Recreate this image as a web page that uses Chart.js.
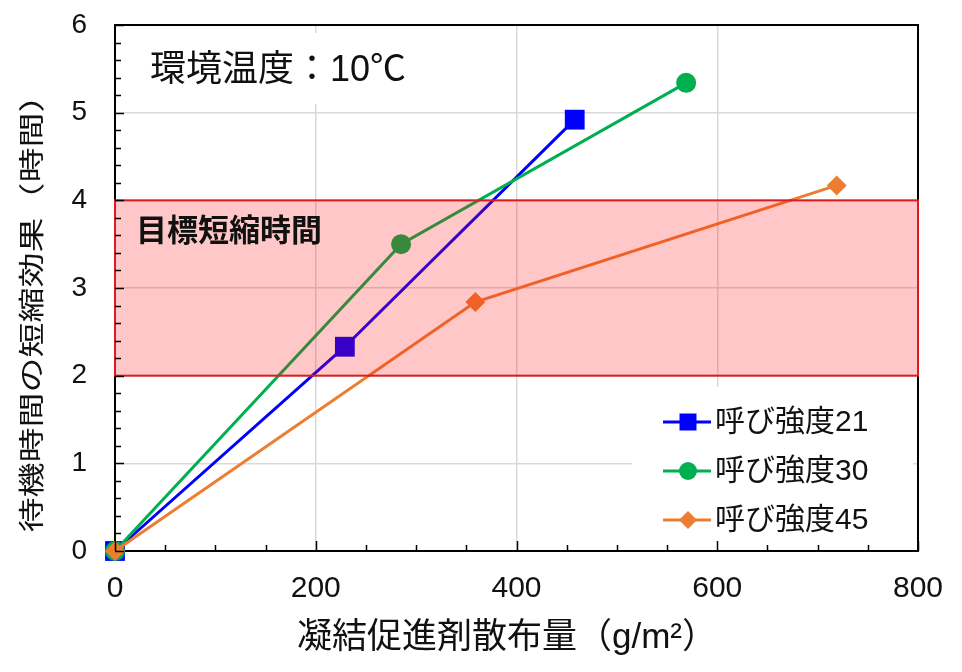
<!DOCTYPE html>
<html>
<head>
<meta charset="utf-8">
<script src="https://cdn.jsdelivr.net/npm/chart.js@4.4.1/dist/chart.umd.min.js"></script>
<style>
  html, body { margin: 0; padding: 0; background: #fff; }
  canvas { display: block; }
</style>
</head>
<body>
<canvas id="chart" width="962" height="672"></canvas>
<script>
const FONT = "'Liberation Sans', Arial, 'Noto Sans CJK JP', sans-serif";

// data
const seriesNames = ['呼び強度21', '呼び強度30', '呼び強度45'];
const dose21 = [0, 229, 458];
const gain21 = [0, 2.33, 4.92];
const dose30 = [0, 285, 569];
const gain30 = [0, 3.50, 5.34];
const dose45 = [0, 359, 719];
const gain45 = [0, 2.84, 4.17];
const targetBand = [2, 4];
const xTitle = '凝結促進剤散布量（g/m²）';
const yTitle = '待機時間の短縮効果（時間）';
const noteTemp = '環境温度：10℃';
const noteBand = '目標短縮時間';

const colors = ['#0000FF', '#00B050', '#ED7D31'];
const styles = ['rect', 'circle', 'rectRot'];

const toPts = (xs, ys) => xs.map((v, i) => ({ x: v, y: ys[i] }));

function marker(ctx, style, cx, cy, r) {
  ctx.beginPath();
  if (style === 'rect') {
    ctx.rect(cx - r, cy - r, 2 * r, 2 * r);
  } else if (style === 'circle') {
    ctx.arc(cx, cy, r, 0, Math.PI * 2);
  } else {
    ctx.moveTo(cx - r, cy); ctx.lineTo(cx, cy - r);
    ctx.lineTo(cx + r, cy); ctx.lineTo(cx, cy + r);
    ctx.closePath();
  }
  ctx.fill();
}

const decor = {
  id: 'decor',
  beforeDatasetsDraw(chart) {
    const { ctx, chartArea: a } = chart;
    ctx.save();
    // white box behind the temperature note (hides the grid)
    ctx.fillStyle = '#fff';
    ctx.fillRect(a.left + 25, 33, 300, 71);
    // white legend box
    ctx.fillRect(632, 387, 281, a.bottom - 388);
    ctx.strokeStyle = '#000';
    ctx.lineWidth = 2;
    ctx.strokeRect(a.left, a.top, a.right - a.left, a.bottom - a.top);
    ctx.restore();
  },
  afterDatasetsDraw(chart) {
    const { ctx, chartArea: a, scales: { x, y } } = chart;
    ctx.save();

    // target band, drawn over the lines
    const yT = y.getPixelForValue(targetBand[1]);
    const yB = y.getPixelForValue(targetBand[0]);
    ctx.fillStyle = 'rgba(255,0,0,0.22)';
    ctx.fillRect(a.left, yT, a.right - a.left, yB - yT);
    ctx.strokeStyle = '#D81E1E';
    ctx.lineWidth = 2;
    ctx.strokeRect(a.left, yT, a.right - a.left, yB - yT);

    // inward ticks
    ctx.strokeStyle = '#000';
    ctx.lineWidth = 1.5;
    ctx.beginPath();
    for (let v = 0; v <= 6.001; v += 0.2) {
      const p = Math.round(y.getPixelForValue(v)) + 0.5;
      const major = Math.abs(v - Math.round(v)) < 0.01;
      ctx.moveTo(a.left, p);
      ctx.lineTo(a.left + (major ? 9 : 6), p);
    }
    for (let v = 0; v <= 800; v += 50) {
      const p = Math.round(x.getPixelForValue(v)) + 0.5;
      const major = v % 200 === 0;
      ctx.moveTo(p, a.bottom);
      ctx.lineTo(p, a.bottom - (major ? 10 : 6));
    }
    ctx.stroke();

    // notes
    ctx.fillStyle = '#111';
    ctx.textBaseline = 'middle';
    ctx.textAlign = 'left';
    ctx.font = "36px " + FONT;
    ctx.fillText(noteTemp, 150, 71);
    ctx.font = "bold 31px " + FONT;
    ctx.fillText(noteBand, 136, 232);

    // legend
    const rows = [422, 471, 520];
    chart.data.datasets.forEach((ds, i) => {
      const cy = rows[i];
      ctx.strokeStyle = ds.borderColor;
      ctx.lineWidth = 3;
      ctx.beginPath();
      ctx.moveTo(663, cy); ctx.lineTo(711, cy);
      ctx.stroke();
      ctx.fillStyle = ds.borderColor;
      marker(ctx, styles[i], 688, cy, i === 0 ? 8.5 : 9);
      ctx.fillStyle = '#111';
      ctx.font = "30px " + FONT;
      ctx.fillText(ds.label, 715, cy + 1);
    });

    // axis titles
    ctx.textAlign = 'center';
    ctx.font = "35px " + FONT;
    ctx.fillText(xTitle, 507, 638);
    ctx.translate(34, 305);
    ctx.rotate(-Math.PI / 2);
    ctx.scale(35 / 26, 1);
    ctx.font = "26px " + FONT;
    ctx.fillText(yTitle, 0, 0);
    ctx.restore();
  }
};

const gridColor = (edge) => (c) => (c.tick && (c.tick.value === 0 || c.tick.value === edge)) ? 'rgba(0,0,0,0)' : '#D9D9D9';

const datasets = [
  { label: seriesNames[0], data: toPts(dose21, gain21), order: 3 },
  { label: seriesNames[1], data: toPts(dose30, gain30), order: 2 },
  { label: seriesNames[2], data: toPts(dose45, gain45), order: 1 }
].map((d, i) => ({
  ...d,
  showLine: true,
  borderColor: colors[i],
  backgroundColor: colors[i],
  borderWidth: 3,
  pointStyle: styles[i],
  pointRadius: i === 0 ? 14 : 10,
  pointBorderWidth: 0,
  pointBackgroundColor: colors[i],
  clip: false
}));

new Chart(document.getElementById('chart'), {
  type: 'scatter',
  data: { datasets },
  options: {
    responsive: false,
    animation: false,
    devicePixelRatio: 1,
    layout: { padding: { top: 25, right: 44, left: 0, bottom: 0 } },
    plugins: { legend: { display: false }, tooltip: { enabled: false } },
    scales: {
      x: {
        type: 'linear', min: 0, max: 800,
        afterFit: (s) => { s.height = 121; s.paddingLeft = 0; s.paddingRight = 0; },
        grid: { color: gridColor(800), lineWidth: 1.5, drawTicks: false },
        border: { display: false },
        ticks: { stepSize: 200, padding: 20, color: '#111', font: { family: FONT, size: 30 } },
        title: { display: false }
      },
      y: {
        type: 'linear', min: 0, max: 6,
        afterFit: (s) => { s.width = 115; s.paddingTop = 0; s.paddingBottom = 0; },
        grid: { color: gridColor(6), lineWidth: 1.5, drawTicks: false },
        border: { display: false },
        ticks: { stepSize: 1, padding: 28, color: '#111', font: { family: FONT, size: 28 } },
        title: { display: false }
      }
    }
  },
  plugins: [decor]
});
</script>
</body>
</html>
